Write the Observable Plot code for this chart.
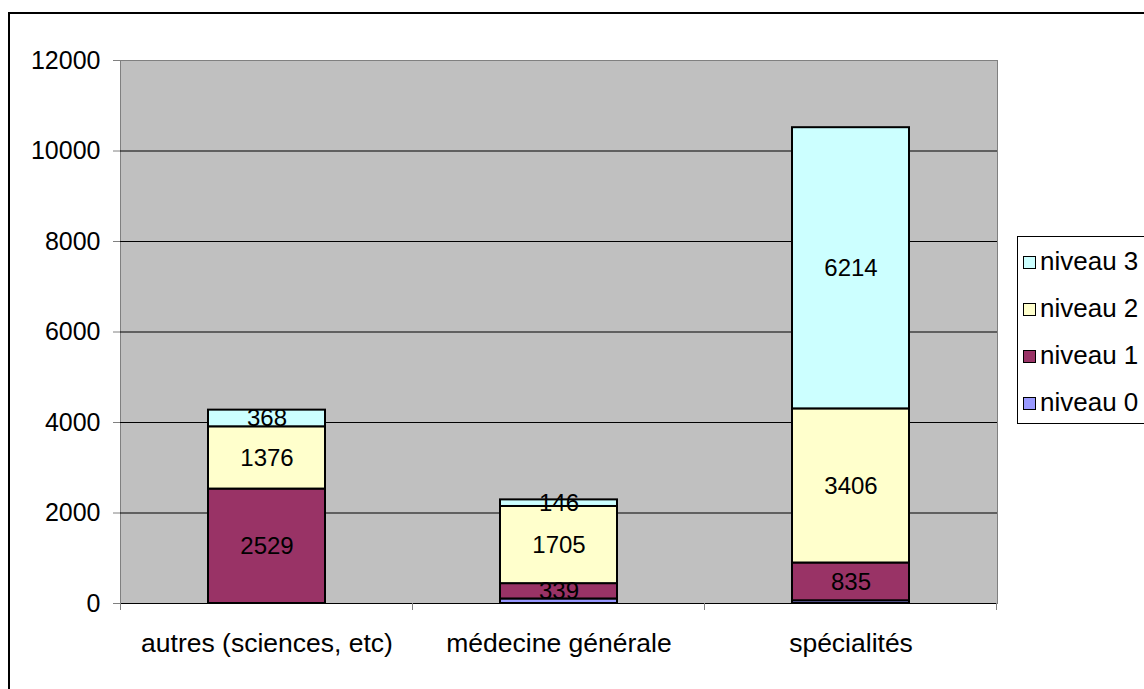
<!DOCTYPE html>
<html><head><meta charset="utf-8">
<script src="https://cdn.jsdelivr.net/npm/d3@7"></script>
<script src="https://cdn.jsdelivr.net/npm/@observablehq/plot@0.6"></script>
<style>
body{margin:0;background:#fff;font-family:"Liberation Sans",Arial,sans-serif;}
#wrap{position:relative;width:1144px;height:689px;overflow:hidden;background:#fff;}
#chart{position:absolute;left:0;top:0;}
#frame{position:absolute;left:8px;top:12px;width:1200px;height:700px;border:2px solid #000;pointer-events:none;}
#legend{position:absolute;left:1017px;top:236px;width:200px;height:188px;border:1px solid #000;background:#fff;box-sizing:border-box;}
.item{position:absolute;left:5px;height:26px;line-height:26px;font-size:26px;color:#000;white-space:nowrap;}
.sw{display:inline-block;width:11px;height:11px;border:1px solid #000;margin-right:4px;vertical-align:1px;}
</style>
</head><body>
<div id="wrap"><div id="chart"></div><div id="frame"></div><div id="legend"></div></div>
<script>
const categories = ["autres (sciences, etc)", "médecine générale", "spécialités"];
const seriesNames = ["niveau 0", "niveau 1", "niveau 2", "niveau 3"];
const niveau0 = [0, 100, 60];
const niveau1 = [2529, 339, 835];
const niveau2 = [1376, 1705, 3406];
const niveau3 = [368, 146, 6214];
const seriesColors = ["#9999FF", "#993366", "#FFFFCC", "#CCFFFF"];
const yTicks = [0, 2000, 4000, 6000, 8000, 10000, 12000];

const seriesValues = [niveau0, niveau1, niveau2, niveau3];
const data = [];
seriesNames.forEach((s, si) => categories.forEach((c, ci) => data.push({cat: c, serie: s, si, value: seriesValues[si][ci]})));

const plot = Plot.plot({
  width: 1144, height: 689,
  marginLeft: 120, marginRight: 147, marginTop: 60, marginBottom: 86,
  style: {fontFamily: '"Liberation Sans", Arial, sans-serif', background: "transparent", color: "#000"},
  x: {domain: categories, paddingInner: 0.6, paddingOuter: 0.3, label: null},
  y: {domain: [0, 12000], label: null},
  color: {domain: seriesNames, range: seriesColors},
  marks: [
    Plot.frame({fill: "#C0C0C0", stroke: "#808080"}),
    Plot.ruleY(yTicks.filter(t => t < 12000), {stroke: "#000", strokeWidth: 1}),
    Plot.axisY({ticks: yTicks, tickSize: 7, tickPadding: 13, fontSize: 25, stroke: "#808080", tickFormat: d => String(d)}),
    Plot.axisX({tickSize: 0, tickPadding: 30, fontSize: 26.5}),
    Plot.barY(data, Plot.stackY({x: "cat", y: "value", fill: "serie", order: null, stroke: "#000", strokeWidth: 2})),
    Plot.text(data, Plot.stackY({x: "cat", y: "value", order: null, text: d => d.si === 0 ? "" : String(d.value), fontSize: 24, fill: "#000"}))
  ]
});
document.getElementById("chart").appendChild(plot);

// category boundary ticks
const xs = plot.scale("x");
const ys = plot.scale("y");
const bounds = categories.map(c => xs.apply(c) - (xs.step - xs.bandwidth) / 2);
bounds.push(xs.apply(categories[categories.length - 1]) + xs.bandwidth + (xs.step - xs.bandwidth) / 2);
const y0 = ys.apply(0);
d3.select(plot).append("g").selectAll("line").data(bounds).join("line")
  .attr("x1", d => d).attr("x2", d => d).attr("y1", y0).attr("y2", y0 + 7)
  .attr("stroke", "#808080");

// legend
const legend = document.getElementById("legend");
[3, 2, 1, 0].forEach((si, i) => {
  const it = document.createElement("div");
  it.className = "item";
  it.style.top = (11 + i * 47) + "px";
  it.innerHTML = `<span class="sw" style="background:${seriesColors[si]}"></span>${seriesNames[si]}`;
  legend.appendChild(it);
});
</script>
</body></html>
